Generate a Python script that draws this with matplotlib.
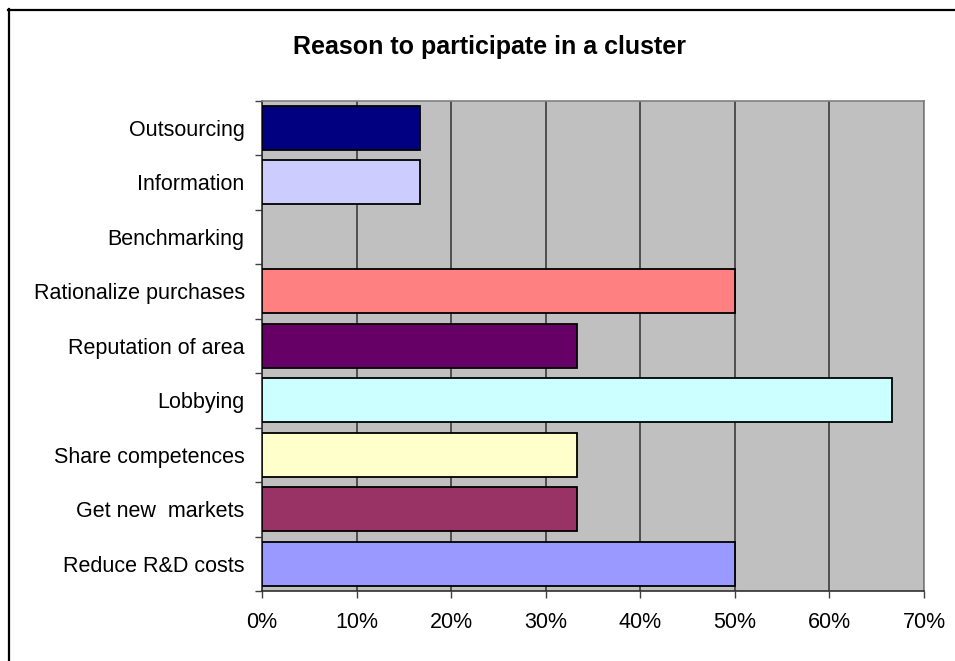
import matplotlib
matplotlib.use("Agg")
import matplotlib.pyplot as plt
from matplotlib.lines import Line2D
from matplotlib.ticker import FixedLocator, PercentFormatter

plt.rcParams['font.family'] = ['Liberation Sans', 'DejaVu Sans']

categories = ["Outsourcing", "Information", "Benchmarking", "Rationalize purchases",
              "Reputation of area", "Lobbying", "Share competences",
              "Get new  markets", "Reduce R&D costs"]
shares = [1/6, 1/6, 0.0, 1/2, 1/3, 2/3, 1/3, 1/3, 1/2]
bar_colors = ["#000080", "#CCCCFF", "#FFFFFF", "#FF8080", "#660066",
              "#CCFFFF", "#FFFFCC", "#993366", "#9999FF"]
x_ticks = [0, 0.1, 0.2, 0.3, 0.4, 0.5, 0.6, 0.7]
title = "Reason to participate in a cluster"

W, H = 955, 661
fig = plt.figure(figsize=(W / 100, H / 100), dpi=100)
fig.patch.set_facecolor("white")

# chart-area frame (left and top edges)
fig.add_artist(Line2D([8.5 / W, 8.5 / W], [1 - 9 / H, 0], transform=fig.transFigure,
                      color="black", lw=1.6))
fig.add_artist(Line2D([8 / W, 1.0], [1 - 9.5 / H, 1 - 9.5 / H], transform=fig.transFigure,
                      color="black", lw=1.6))

left, right, top, bottom = 262, 924, 100.5, 591
ax = fig.add_axes([left / W, 1 - bottom / H, (right - left) / W, (bottom - top) / H])
ax.set_facecolor("#C0C0C0")

ypos = list(range(len(categories)))
for y, v, c in zip(ypos, shares, bar_colors):
    if v > 0:
        ax.barh(y, v, height=0.8, color=c, edgecolor="black", linewidth=1.3, zorder=3)

ax.set_xlim(0, 0.7)
ax.set_ylim(len(categories) - 0.5, -0.5)

ax.set_xticks(x_ticks)
ax.xaxis.set_major_formatter(PercentFormatter(1.0, decimals=0))
ax.set_yticks(ypos)
ax.set_yticklabels(categories)
ax.yaxis.set_minor_locator(FixedLocator([i - 0.5 for i in range(len(categories) + 1)]))

ax.tick_params(axis="y", which="major", length=0, pad=12.5, labelsize=15.5, colors="black")
ax.tick_params(axis="y", which="minor", length=5, width=1, color="#404040", direction="out")
ax.tick_params(axis="x", which="major", length=5, width=1, color="#404040",
               direction="out", pad=10, labelsize=15.5)

ax.grid(axis="x", color="#303030", linewidth=1.1, zorder=1)
ax.set_axisbelow(True)

for side in ("left", "bottom"):
    ax.spines[side].set_color("#303030")
    ax.spines[side].set_linewidth(1.2)
for side in ("top", "right"):
    ax.spines[side].set_color("#808080")
    ax.spines[side].set_linewidth(1.2)

fig.text(489 / W, 1 - 47 / H, title, ha="center", va="center",
         fontsize=18, fontweight="bold")

fig.savefig("out.png", dpi=100, facecolor="white")
